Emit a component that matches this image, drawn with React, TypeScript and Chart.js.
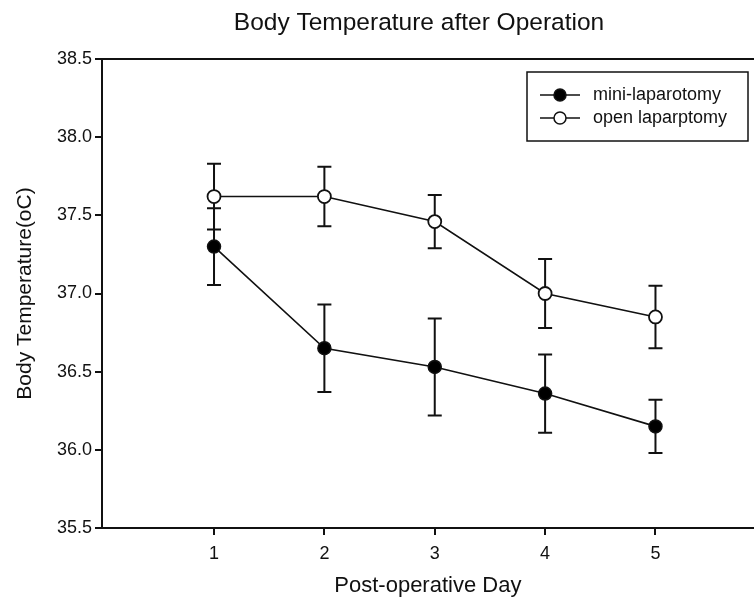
import { useEffect, useRef } from 'react';
import { Chart, registerables } from 'chart.js';

Chart.register(...registerables);

const days = [1, 2, 3, 4, 5];
const dayTicks = [1, 2, 3, 4, 5];
const miniMean = [37.3, 36.65, 36.53, 36.36, 36.15];
const miniErr = [0.245, 0.28, 0.31, 0.25, 0.17];
const openMean = [37.62, 37.62, 37.46, 37.0, 36.85];
const openErr = [0.21, 0.19, 0.17, 0.22, 0.2];
const seriesLabels = ['mini-laparotomy', 'open laparptomy'];
const titleText = 'Body Temperature after Operation';
const xTitle = 'Post-operative Day';
const yTitle = 'Body Temperature(oC)';

const FONT = "'Liberation Sans', Arial, Helvetica, sans-serif";
const INK = '#111';
const errors = [miniErr, openErr];

const errorBarPlugin = {
  id: 'errorBars',
  beforeDatasetsDraw(chart: any) {
    const { ctx, scales } = chart;
    const x = scales.x;
    const y = scales.y;
    ctx.save();
    ctx.strokeStyle = INK;
    ctx.lineWidth = 2;
    chart.data.datasets.forEach((ds: any, di: number) => {
      ds.data.forEach((p: any, i: number) => {
        const e = errors[di][i];
        const px = x.getPixelForValue(p.x);
        const top = y.getPixelForValue(p.y + e);
        const bot = y.getPixelForValue(p.y - e);
        ctx.beginPath();
        ctx.moveTo(px, top);
        ctx.lineTo(px, bot);
        ctx.moveTo(px - 7, top);
        ctx.lineTo(px + 7, top);
        ctx.moveTo(px - 7, bot);
        ctx.lineTo(px + 7, bot);
        ctx.stroke();
      });
    });
    ctx.restore();
  },
};

const decorPlugin = {
  id: 'decor',
  afterDraw(chart: any) {
    const { ctx, chartArea } = chart;
    ctx.save();
    // top frame line
    ctx.strokeStyle = INK;
    ctx.lineWidth = 2;
    ctx.beginPath();
    ctx.moveTo(chartArea.left - 1, chartArea.top);
    ctx.lineTo(chart.width, chartArea.top);
    ctx.stroke();

    // title
    ctx.fillStyle = INK;
    ctx.font = `24.5px ${FONT}`;
    ctx.textAlign = 'center';
    ctx.textBaseline = 'middle';
    ctx.fillText(titleText, 419, 23);

    // legend
    const bx = 527, by = 72, bw = 221, bh = 69;
    ctx.lineWidth = 1.5;
    ctx.strokeRect(bx, by, bw, bh);
    const rows = [95, 118];
    chart.data.datasets.forEach((ds: any, i: number) => {
      const ry = rows[i];
      ctx.strokeStyle = INK;
      ctx.lineWidth = 1.5;
      ctx.beginPath();
      ctx.moveTo(540, ry);
      ctx.lineTo(580, ry);
      ctx.stroke();
      ctx.beginPath();
      ctx.arc(560, ry, 6, 0, Math.PI * 2);
      ctx.fillStyle = ds.pointBackgroundColor;
      ctx.fill();
      ctx.stroke();
      ctx.fillStyle = INK;
      ctx.font = `18px ${FONT}`;
      ctx.textAlign = 'left';
      ctx.textBaseline = 'middle';
      ctx.fillText(ds.label, 593, ry);
    });
    ctx.restore();
  },
};

export default function App() {
  const ref = useRef<HTMLCanvasElement | null>(null);
  useEffect(() => {
    if (!ref.current) return;
    Chart.defaults.font.family = FONT;
    const chart = new Chart(ref.current, {
      type: 'line',
      data: {
        datasets: [
          {
            label: seriesLabels[0],
            data: days.map((d, i) => ({ x: d, y: miniMean[i] })),
            borderColor: INK,
            borderWidth: 1.6,
            pointRadius: 6.5,
            pointBorderWidth: 1.5,
            pointBorderColor: INK,
            pointBackgroundColor: '#000',
            tension: 0,
          },
          {
            label: seriesLabels[1],
            data: days.map((d, i) => ({ x: d, y: openMean[i] })),
            borderColor: INK,
            borderWidth: 1.6,
            pointRadius: 6.5,
            pointBorderWidth: 1.8,
            pointBorderColor: INK,
            pointBackgroundColor: '#fff',
            tension: 0,
          },
        ],
      },
      options: {
        responsive: false,
        animation: false,
        layout: { padding: { top: 59, right: 0, left: 0, bottom: 0 } },
        plugins: {
          legend: { display: false },
          title: { display: false },
          tooltip: { enabled: false },
        },
        scales: {
          x: {
            type: 'linear',
            min: -0.015,
            max: 5.89,
            afterBuildTicks: (s: any) => {
              s.ticks = dayTicks.map((v) => ({ value: v }));
            },
            afterFit: (s: any) => {
              s.height = 73;
            },
            grid: { drawOnChartArea: false, drawTicks: true, tickLength: 7, color: INK, lineWidth: 2 },
            border: { display: true, color: INK, width: 2 },
            ticks: { color: INK, font: { size: 18 }, padding: 8, callback: (v: any) => String(v) },
            title: { display: true, text: xTitle, color: INK, font: { size: 22 }, padding: { top: 4, bottom: 2 } },
          },
          y: {
            min: 35.5,
            max: 38.5,
            afterFit: (s: any) => {
              s.width = 102;
            },
            grid: { drawOnChartArea: false, drawTicks: true, tickLength: 7, color: INK, lineWidth: 2 },
            border: { display: true, color: INK, width: 2 },
            ticks: { stepSize: 0.5, color: INK, font: { size: 18 }, padding: 3, callback: (v: any) => Number(v).toFixed(1) },
            title: { display: true, text: yTitle, color: INK, font: { size: 21 }, padding: { top: 13, bottom: 0 } },
          },
        },
      },
      plugins: [errorBarPlugin, decorPlugin],
    });
    return () => chart.destroy();
  }, []);
  return (
    <div style={{ position: 'fixed', left: 0, top: 0, width: 754, height: 601, overflow: 'hidden', background: '#fff' }}>
      <canvas ref={ref} width={762} height={601} style={{ display: 'block' }} />
    </div>
  );
}
